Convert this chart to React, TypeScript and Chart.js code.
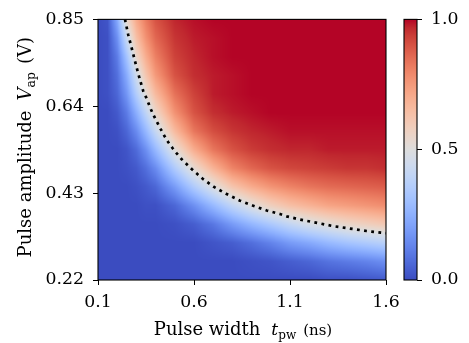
import React, { useEffect, useRef } from "react";
import { Chart, registerables } from "chart.js";

Chart.register(...registerables);

// Pulse width t_pw (ns): heat-map sample columns
const widthT = [0.1, 0.15, 0.2, 0.25, 0.3, 0.35, 0.4, 0.5, 0.6, 0.7, 0.8, 0.9, 1.0, 1.1, 1.2, 1.3, 1.4, 1.5, 1.6];
// Pulse amplitude V_ap (V): heat-map sample rows (top to bottom)
const amplitudeV = [0.85, 0.805, 0.76, 0.715, 0.67, 0.625, 0.58, 0.535, 0.49, 0.445, 0.4, 0.355, 0.31, 0.265, 0.22];
// Switching probability, one row per amplitude
const probV085 = [0.00, 0.02, 0.23, 0.54, 0.71, 0.82, 0.90, 0.97, 0.99, 1.00, 1.00, 1.00, 1.00, 1.00, 1.00, 1.00, 1.00, 1.00, 1.00];
const probV080 = [0.00, 0.01, 0.16, 0.43, 0.64, 0.77, 0.86, 0.95, 0.98, 0.99, 1.00, 1.00, 1.00, 1.00, 1.00, 1.00, 1.00, 1.00, 1.00];
const probV076 = [0.00, 0.01, 0.11, 0.32, 0.55, 0.70, 0.81, 0.93, 0.97, 0.99, 1.00, 1.00, 1.00, 1.00, 1.00, 1.00, 1.00, 1.00, 1.00];
const probV071 = [0.00, 0.01, 0.08, 0.24, 0.45, 0.62, 0.75, 0.90, 0.96, 0.98, 0.99, 1.00, 1.00, 1.00, 1.00, 1.00, 1.00, 1.00, 1.00];
const probV067 = [0.00, 0.01, 0.06, 0.18, 0.36, 0.52, 0.66, 0.84, 0.93, 0.98, 0.99, 1.00, 1.00, 1.00, 1.00, 1.00, 1.00, 1.00, 1.00];
const probV062 = [0.00, 0.00, 0.03, 0.11, 0.25, 0.40, 0.55, 0.77, 0.90, 0.96, 0.98, 0.99, 1.00, 1.00, 1.00, 1.00, 1.00, 1.00, 1.00];
const probV058 = [0.00, 0.00, 0.01, 0.06, 0.15, 0.28, 0.42, 0.66, 0.83, 0.91, 0.95, 0.97, 0.98, 0.99, 0.99, 0.99, 0.99, 0.99, 0.99];
const probV053 = [0.00, 0.00, 0.00, 0.02, 0.07, 0.16, 0.28, 0.51, 0.70, 0.83, 0.90, 0.94, 0.96, 0.97, 0.97, 0.98, 0.98, 0.98, 0.98];
const probV049 = [0.00, 0.00, 0.00, 0.01, 0.03, 0.08, 0.15, 0.35, 0.53, 0.68, 0.80, 0.86, 0.90, 0.92, 0.93, 0.94, 0.95, 0.95, 0.96];
const probV044 = [0.00, 0.00, 0.00, 0.00, 0.01, 0.03, 0.06, 0.19, 0.35, 0.49, 0.62, 0.70, 0.76, 0.80, 0.83, 0.85, 0.86, 0.87, 0.88];
const probV040 = [0.00, 0.00, 0.00, 0.00, 0.00, 0.01, 0.01, 0.06, 0.16, 0.28, 0.40, 0.50, 0.58, 0.64, 0.68, 0.72, 0.74, 0.76, 0.78];
const probV035 = [0.00, 0.00, 0.00, 0.00, 0.00, 0.00, 0.00, 0.01, 0.04, 0.10, 0.19, 0.27, 0.34, 0.41, 0.47, 0.51, 0.55, 0.58, 0.61];
const probV031 = [0.00, 0.00, 0.00, 0.00, 0.00, 0.00, 0.00, 0.00, 0.00, 0.02, 0.04, 0.08, 0.13, 0.19, 0.23, 0.28, 0.32, 0.35, 0.38];
const probV026 = [0.00, 0.00, 0.00, 0.00, 0.00, 0.00, 0.00, 0.00, 0.00, 0.00, 0.00, 0.01, 0.02, 0.04, 0.06, 0.09, 0.11, 0.13, 0.16];
const probV022 = [0.00, 0.00, 0.00, 0.00, 0.00, 0.00, 0.00, 0.00, 0.00, 0.00, 0.00, 0.00, 0.00, 0.00, 0.00, 0.01, 0.01, 0.02, 0.03];
const probRows = [probV085, probV080, probV076, probV071, probV067, probV062, probV058, probV053, probV049, probV044, probV040, probV035, probV031, probV026, probV022];

// 50% switching contour (dotted line)
const contourT = [0.2406, 0.2578, 0.2755, 0.2927, 0.3151, 0.3359, 0.35, 0.376, 0.3932, 0.4266, 0.4453, 0.4661, 0.487, 0.5099, 0.5359, 0.588, 0.6453, 0.7042, 0.7703, 0.8396, 0.9089, 0.9786, 1.0479, 1.0828, 1.1521, 1.3255, 1.4995, 1.574, 1.6];
const contourV = [0.85, 0.8121, 0.7806, 0.7489, 0.7095, 0.6764, 0.6622, 0.632, 0.6147, 0.5846, 0.5688, 0.5531, 0.5396, 0.5261, 0.5119, 0.4883, 0.4646, 0.445, 0.4277, 0.4118, 0.3993, 0.3881, 0.3794, 0.3739, 0.3661, 0.3502, 0.3384, 0.3344, 0.333];

// Tick labels
const xTicks = [0.1, 0.6, 1.1, 1.6];
const yTicks = [0.22, 0.43, 0.64, 0.85];
const cbTicks = [0.0, 0.5, 1.0];

// matplotlib "coolwarm" colormap, 33 evenly spaced anchors
const COOLWARM: number[][] = [
  [59, 76, 192], [68, 90, 204], [77, 104, 215], [87, 117, 225], [98, 130, 234], [108, 142, 241], [119, 154, 247], [130, 165, 251],
  [141, 176, 254], [152, 185, 255], [163, 194, 255], [174, 201, 253], [184, 208, 249], [194, 213, 244], [204, 217, 238], [213, 219, 230],
  [221, 221, 221], [229, 216, 209], [236, 211, 197], [241, 204, 185], [245, 196, 173], [247, 187, 160], [247, 177, 148], [247, 166, 135],
  [244, 154, 123], [241, 141, 111], [236, 127, 99], [229, 112, 88], [222, 96, 77], [213, 80, 66], [203, 62, 56], [192, 40, 47], [180, 4, 38],
];

function cmap(p: number): number[] {
  const v = Math.max(0, Math.min(1, p)) * 32;
  const i = Math.min(31, Math.floor(v));
  const f = v - i;
  const a = COOLWARM[i], b = COOLWARM[i + 1];
  return [a[0] + (b[0] - a[0]) * f, a[1] + (b[1] - a[1]) * f, a[2] + (b[2] - a[2]) * f];
}

function locate(arr: number[], v: number, desc: boolean): [number, number] {
  const n = arr.length;
  for (let i = 0; i < n - 1; i++) {
    const a = arr[i], b = arr[i + 1];
    const inside = desc ? v <= a && v >= b : v >= a && v <= b;
    if (inside) return [i, (v - a) / (b - a)];
  }
  if (desc) return v > arr[0] ? [0, 0] : [n - 2, 1];
  return v < arr[0] ? [0, 0] : [n - 2, 1];
}

function sampleProb(t: number, V: number): number {
  const [c, fc] = locate(widthT, t, false);
  const [r, fr] = locate(amplitudeV, V, true);
  const p00 = probRows[r][c], p01 = probRows[r][c + 1];
  const p10 = probRows[r + 1][c], p11 = probRows[r + 1][c + 1];
  const top = p00 + (p01 - p00) * fc;
  const bot = p10 + (p11 - p10) * fc;
  return top + (bot - top) * fr;
}

const FONT = "'DejaVu Serif', 'Liberation Serif', serif";

const heatmapPlugin = {
  id: "heatmap",
  beforeDatasetsDraw(chart: any) {
    const { ctx, chartArea: a, scales } = chart;
    const xs = scales.x, ys = scales.y;
    const w = Math.round(a.right - a.left), h = Math.round(a.bottom - a.top);
    const off = document.createElement("canvas");
    off.width = w; off.height = h;
    const octx = off.getContext("2d")!;
    const img = octx.createImageData(w, h);
    for (let j = 0; j < h; j++) {
      const V = ys.getValueForPixel(a.top + j + 0.5);
      for (let i = 0; i < w; i++) {
        const t = xs.getValueForPixel(a.left + i + 0.5);
        const col = cmap(sampleProb(t, V));
        const k = (j * w + i) * 4;
        img.data[k] = col[0]; img.data[k + 1] = col[1]; img.data[k + 2] = col[2]; img.data[k + 3] = 255;
      }
    }
    octx.putImageData(img, 0, 0);
    ctx.drawImage(off, a.left, a.top);
  },
};

const framePlugin = {
  id: "frame",
  afterDatasetsDraw(chart: any) {
    const { ctx, chartArea: a } = chart;
    ctx.save();
    ctx.strokeStyle = "#000";
    ctx.lineWidth = 1.1;
    ctx.strokeRect(a.left, a.top, a.right - a.left, a.bottom - a.top);
    ctx.restore();
  },
};

type Seg = { text: string; font: string; dy?: number; gap?: number };
function drawSegs(ctx: CanvasRenderingContext2D, segs: Seg[], cx: number, baseY: number) {
  const widths = segs.map((s) => { ctx.font = s.font; return ctx.measureText(s.text).width; });
  const total = widths.reduce((p, q) => p + q, 0) + segs.reduce((p, s) => p + (s.gap || 0), 0);
  let x = cx - total / 2;
  ctx.textAlign = "left";
  ctx.textBaseline = "alphabetic";
  ctx.fillStyle = "#000";
  segs.forEach((s, i) => {
    x += s.gap || 0;
    ctx.font = s.font;
    ctx.fillText(s.text, x, baseY + (s.dy || 0));
    x += widths[i];
  });
}

const titlePlugin = {
  id: "titles",
  afterDraw(chart: any) {
    const { ctx, chartArea: a } = chart;
    ctx.save();
    drawSegs(ctx, [
      { text: "Pulse width", font: `18px ${FONT}` },
      { text: "t", font: `italic 17px ${FONT}`, gap: 11 },
      { text: "pw", font: `12px ${FONT}`, dy: 4 },
      { text: "(ns)", font: `15px ${FONT}`, gap: 7 },
    ], (a.left + a.right) / 2 + 1, 335);
    ctx.translate(31, (a.top + a.bottom) / 2 - 2.5);
    ctx.rotate(-Math.PI / 2);
    drawSegs(ctx, [
      { text: "Pulse amplitude", font: `18px ${FONT}` },
      { text: "V", font: `italic 18px ${FONT}`, gap: 10 },
      { text: "ap", font: `12.5px ${FONT}`, dy: 4 },
      { text: "(V)", font: `18px ${FONT}`, gap: 8 },
    ], 0, 0);
    ctx.restore();
  },
};

const colorbarPlugin = {
  id: "colorbar",
  beforeDatasetsDraw(chart: any) {
    const { ctx, chartArea: a, scales } = chart;
    const ys = scales.y;
    for (let y = Math.floor(a.top); y < Math.ceil(a.bottom); y++) {
      const c = cmap(ys.getValueForPixel(y + 0.5));
      ctx.fillStyle = `rgb(${c[0]},${c[1]},${c[2]})`;
      ctx.fillRect(a.left, y, a.right - a.left, 1);
    }
  },
  afterDatasetsDraw(chart: any) {
    const { ctx, chartArea: a } = chart;
    ctx.save();
    ctx.strokeStyle = "#000";
    ctx.lineWidth = 1.1;
    ctx.strokeRect(a.left, a.top, a.right - a.left, a.bottom - a.top);
    ctx.restore();
  },
};

const tickFont = { family: FONT, size: 17.3 };

export default function App() {
  const mainRef = useRef<HTMLCanvasElement>(null);
  const cbRef = useRef<HTMLCanvasElement>(null);

  useEffect(() => {
    const main = new Chart(mainRef.current!, {
      type: "line",
      data: {
        datasets: [
          {
            data: contourT.map((t, i) => ({ x: t, y: contourV[i] })),
            borderColor: "#000",
            borderWidth: 2.7,
            borderDash: [2.8, 4.4],
            borderCapStyle: "butt",
            pointRadius: 0,
            fill: false,
            tension: 0,
          },
        ],
      },
      options: {
        animation: false,
        responsive: false,
        events: [],
        layout: { padding: { left: 0, top: 14, right: 83, bottom: 0 } },
        plugins: { legend: { display: false }, tooltip: { enabled: false } },
        scales: {
          x: {
            type: "linear",
            min: 0.1,
            max: 1.6,
            afterBuildTicks: (s: any) => { s.ticks = xTicks.map((v) => ({ value: v })); },
            afterFit: (s: any) => { s.height = 63; },
            ticks: { font: tickFont, color: "#000", padding: 7, maxRotation: 0, autoSkip: false, callback: (v: any) => Number(v).toFixed(1) },
            grid: { drawOnChartArea: false, drawTicks: true, tickLength: 5, color: "#000", lineWidth: 1 },
            border: { display: false },
          },
          y: {
            type: "linear",
            min: 0.22,
            max: 0.85,
            afterBuildTicks: (s: any) => { s.ticks = yTicks.map((v) => ({ value: v })); },
            afterFit: (s: any) => { s.width = 98; },
            ticks: { font: tickFont, color: "#000", padding: 9, autoSkip: false, callback: (v: any) => Number(v).toFixed(2) },
            grid: { drawOnChartArea: false, drawTicks: true, tickLength: 5, color: "#000", lineWidth: 1 },
            border: { display: false },
          },
        },
      } as any,
      plugins: [heatmapPlugin, framePlugin, titlePlugin],
    });

    const cb = new Chart(cbRef.current!, {
      type: "line",
      data: { datasets: [] },
      options: {
        animation: false,
        responsive: false,
        events: [],
        layout: { padding: { left: 404, top: 14, right: 0, bottom: 63 } },
        plugins: { legend: { display: false }, tooltip: { enabled: false } },
        scales: {
          x: { type: "linear", display: false, min: 0, max: 1 },
          y: {
            type: "linear",
            position: "right",
            min: 0,
            max: 1,
            afterBuildTicks: (s: any) => { s.ticks = cbTicks.map((v) => ({ value: v })); },
            afterFit: (s: any) => { s.width = 52; },
            ticks: { font: tickFont, color: "#000", padding: 9, autoSkip: false, callback: (v: any) => Number(v).toFixed(1) },
            grid: { drawOnChartArea: false, drawTicks: true, tickLength: 5, color: "#000", lineWidth: 1 },
            border: { display: false },
          },
        },
      } as any,
      plugins: [colorbarPlugin],
    });

    return () => { main.destroy(); cb.destroy(); };
  }, []);

  return (
    <div style={{ position: "absolute", left: 0, top: 0, width: 469, height: 343, background: "#fff" }}>
      <canvas ref={mainRef} width={469} height={343} style={{ position: "absolute", left: 0, top: 0 }} />
      <canvas ref={cbRef} width={469} height={343} style={{ position: "absolute", left: 0, top: 0 }} />
    </div>
  );
}
